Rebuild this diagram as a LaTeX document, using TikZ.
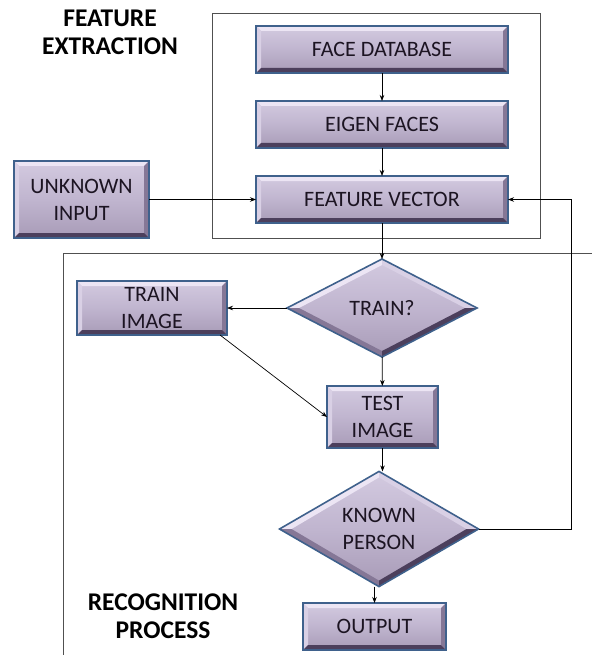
\documentclass[tikz,border=0pt]{standalone}
\usepackage{fontspec}
\setmainfont{Carlito}
\usetikzlibrary{shapes.geometric,arrows.meta}

\definecolor{rim}{HTML}{3F618C}
\definecolor{facetop}{HTML}{D3CAE0}
\definecolor{facemid}{HTML}{C0B5CF}
\definecolor{facebot}{HTML}{A89BB7}
\definecolor{bevlight}{HTML}{ECE5F4}
\definecolor{bevside}{HTML}{D9D0E5}
\definecolor{bevshade}{HTML}{857796}
\definecolor{bevdark}{HTML}{4C3F5C}
\definecolor{ink}{HTML}{1C1422}
\definecolor{framecol}{HTML}{505050}

\tikzset{
  boxtext/.style={font=\fontsize{22}{27}\selectfont, text=ink, align=center},
  face/.style={top color=facetop, bottom color=facebot, middle color=facemid,
    draw=rim, line width=1.6pt, inner sep=0pt, outer sep=0pt},
  stepbox/.style={rectangle, face, boxtext,
    path picture={
      \fill[bevlight] (path picture bounding box.north west) -- (path picture bounding box.north east)
        -- ([shift={(-5pt,-5pt)}]path picture bounding box.north east)
        -- ([shift={(5pt,-5pt)}]path picture bounding box.north west) -- cycle;
      \fill[bevside] (path picture bounding box.north west) -- (path picture bounding box.south west)
        -- ([shift={(5pt,5pt)}]path picture bounding box.south west)
        -- ([shift={(5pt,-5pt)}]path picture bounding box.north west) -- cycle;
      \fill[bevshade] (path picture bounding box.north east) -- (path picture bounding box.south east)
        -- ([shift={(-5pt,5pt)}]path picture bounding box.south east)
        -- ([shift={(-5pt,-5pt)}]path picture bounding box.north east) -- cycle;
      \fill[bevdark] (path picture bounding box.south west) -- (path picture bounding box.south east)
        -- ([shift={(-5pt,5pt)}]path picture bounding box.south east)
        -- ([shift={(5pt,5pt)}]path picture bounding box.south west) -- cycle;
    }},
  decision/.style={diamond, face, boxtext,
    path picture={
      \coordinate (pN) at (path picture bounding box.north);
      \coordinate (pS) at (path picture bounding box.south);
      \coordinate (pE) at (path picture bounding box.east);
      \coordinate (pW) at (path picture bounding box.west);
      \coordinate (qN) at ([yshift=-6pt]pN);
      \coordinate (qS) at ([yshift=6pt]pS);
      \coordinate (qE) at ([xshift=-12pt]pE);
      \coordinate (qW) at ([xshift=12pt]pW);
      \fill[bevlight] (pW) -- (pN) -- (qN) -- (qW) -- cycle;
      \fill[bevside] (pN) -- (pE) -- (qE) -- (qN) -- cycle;
      \fill[bevshade] (pW) -- (pS) -- (qS) -- (qW) -- cycle;
      \fill[bevdark] (pS) -- (pE) -- (qE) -- (qS) -- cycle;
    }},
  arr/.style={draw=black, line width=0.7pt, -{Stealth[length=6pt,width=4.5pt]}},
  frame/.style={draw=framecol, line width=0.8pt},
  title/.style={font=\fontsize{25.5}{28}\selectfont\bfseries, text=black, align=center}
}

\begin{document}
\begin{tikzpicture}[x=1pt,y=-1pt]
\useasboundingbox (0,0) rectangle (592,655);

% group frames
\draw[frame] (212,13) rectangle (540,238);
\draw[frame] (63,655) -- (63,253) -- (592,253);

% headings
\node[title] (fextr) at (110,32) {FEATURE\\EXTRACTION};
\node[title] (recog) at (163,616) {RECOGNITION\\PROCESS};

% process steps
\node[stepbox, minimum width=252pt, minimum height=47pt] (fd) at (382,49.5) {FACE DATABASE};
\node[stepbox, minimum width=252pt, minimum height=47pt] (ef) at (382,124.5) {EIGEN FACES};
\node[stepbox, minimum width=252pt, minimum height=47pt] (fv) at (382,199.5) {FEATURE VECTOR};
\node[stepbox, minimum width=135pt, minimum height=77pt] (unk) at (81.5,199.5) {UNKNOWN\\INPUT};
\node[stepbox, minimum width=150pt, minimum height=54pt] (ti) at (152,308) {TRAIN\\IMAGE};
\node[stepbox, minimum width=111pt, minimum height=62pt] (test) at (382.5,417) {TEST\\IMAGE};
\node[stepbox, minimum width=143pt, minimum height=47pt] (out) at (374.5,626.5) {OUTPUT};

% decisions
\node[decision, minimum width=190pt, minimum height=98pt] (train) at (382,308) {TRAIN?};
\node[decision, minimum width=199pt, minimum height=90pt] (known) at (379,529) {KNOWN\\PERSON};

% connectors
\coordinate (fb) at (571,199.5);
\draw[arr] (fd) -- (ef);
\draw[arr] (ef) -- (fv);
\draw[arr] (unk) -- (fv);
\draw[arr] (fv) -- (train);
\draw[arr] (train) -- (ti);
\draw[arr] (train) -- (test);
\draw[arr] ([xshift=-7pt]ti.south east) -- (test.west);
\draw[arr] (test.south) -- (test.south |- known.north);
\draw[arr] (known.south -| out.north) -- (out.north);
\draw[arr] (known.east) -| (fb) -- (fv.east);
\end{tikzpicture}
\end{document}
